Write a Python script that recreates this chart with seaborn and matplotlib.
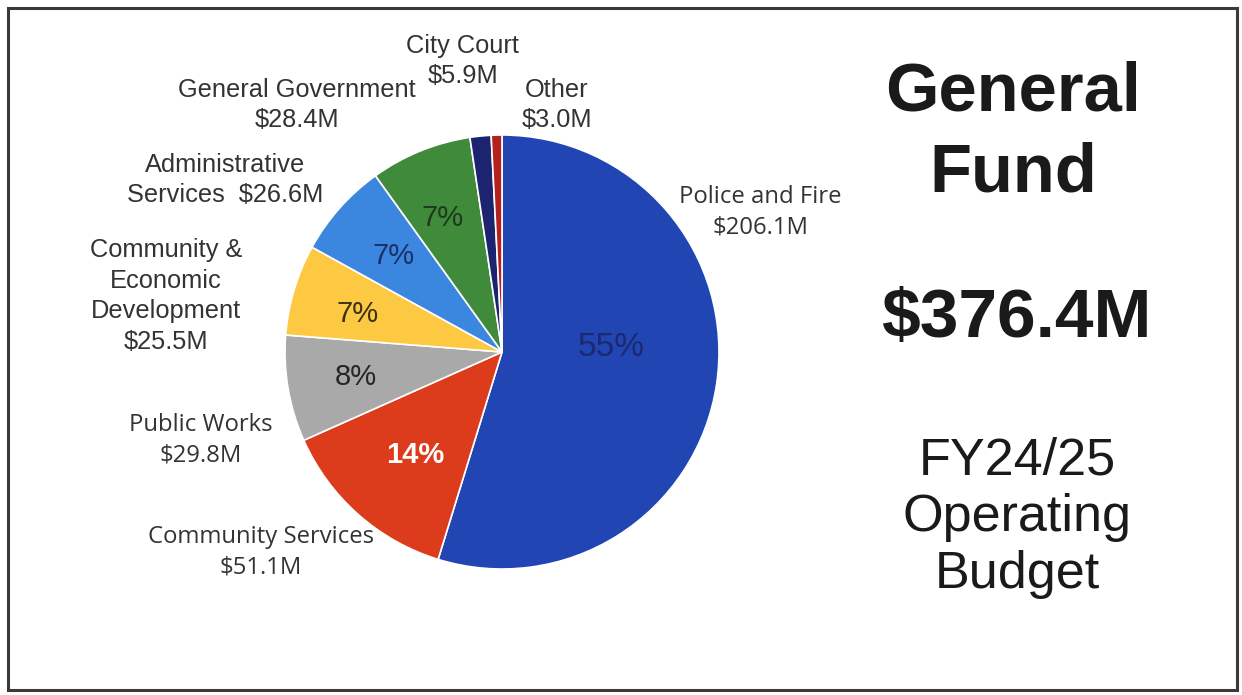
import matplotlib
matplotlib.use("Agg")
import matplotlib.pyplot as plt
from matplotlib.patches import Rectangle
import seaborn as sns

# General Fund operating budget by department, FY24/25 ($ millions)
departments = [
    "Police and Fire",
    "Community Services",
    "Public Works",
    "Community &\nEconomic\nDevelopment",
    "Administrative\nServices",
    "General Government",
    "City Court",
    "Other",
]
amounts = [206.1, 51.1, 29.8, 25.5, 26.6, 28.4, 5.9, 3.0]
pct_labels = ["55%", "14%", "8%", "7%", "7%", "7%", "", ""]
total_label = "$376.4M"

colors = ["#2146b3", "#dc3b1c", "#a9a9a9", "#fdc943", "#3b86df",
          "#3f8a3b", "#1c2470", "#b3211f"]

sns.set_theme(style="white")
ARIAL = ["Liberation Sans", "DejaVu Sans"]
APTOS = ["Open Sans", "DejaVu Sans"]

W, H = 1242, 695
fig = plt.figure(figsize=(W / 100, H / 100), dpi=100)
fig.patch.set_facecolor("white")


def fx(px):
    return px / W


def fy(py):
    return 1 - py / H


# Frame around the slide
fig.add_artist(Rectangle((fx(8), fy(690)), fx(1229), (682) / H,
                         transform=fig.transFigure, fill=False,
                         edgecolor="#3a3a3a", linewidth=2.2))

# Pie axes
cx, cy, r = 502, 352, 217
ax = fig.add_axes([fx(cx - r), fy(cy + r), 2 * r / W, 2 * r / H])
ax.pie(amounts, colors=colors, startangle=90, counterclock=False,
       radius=1.0,
       wedgeprops=dict(edgecolor="white", linewidth=1.2))
ax.set_xlim(-1, 1)
ax.set_ylim(-1, 1)
ax.set_aspect("equal")
ax.axis("off")


def to_data(px, py):
    return (px - cx) / r, (cy - py) / r


# Percent labels inside the wedges
pct_style = [
    dict(pos=(611, 348), color="#1b2a6e", size=24, weight="normal"),
    dict(pos=(415, 455), color="white", size=21, weight="bold"),
    dict(pos=(356, 377), color="#262626", size=21, weight="normal"),
    dict(pos=(358, 314), color="#3a3214", size=21, weight="normal"),
    dict(pos=(394, 256), color="#1c3068", size=21, weight="normal"),
    dict(pos=(443, 218), color="#1e3a1e", size=21, weight="normal"),
]
for lab, st in zip(pct_labels, pct_style):
    x, y = to_data(*st["pos"])
    ax.text(x, y, lab, ha="center", va="center", color=st["color"],
            fontsize=st["size"], fontweight=st["weight"], family=ARIAL)

# Category labels with amounts
label_pos = [
    ((760, 212), APTOS),
    ((261, 552), APTOS),
    ((201, 440), APTOS),
    ((166, 296), ARIAL),
    ((225, 180), ARIAL),
    ((297, 105), ARIAL),
    ((463, 61), ARIAL),
    ((557, 105), ARIAL),
]
for name, amt, (pos, fam) in zip(departments, amounts, label_pos):
    if name == "Administrative\nServices":
        text = f"Administrative\nServices  ${amt:.1f}M"
    else:
        text = f"{name}\n${amt:.1f}M"
    fig.text(fx(pos[0]), fy(pos[1]), text, ha="center", va="center",
             fontsize=18.3 if fam is ARIAL else 17.2, color="#333333",
             family=fam, linespacing=1.36)

# Title block on the right
fig.text(fx(1013), fy(133), "General\nFund", ha="center", va="center",
         fontsize=49.5, fontweight="bold", color="#1a1a1a", family=ARIAL,
         linespacing=1.35)
fig.text(fx(1016), fy(319), total_label, ha="center", va="center",
         fontsize=50, fontweight="bold", color="#1a1a1a", family=ARIAL)
fig.text(fx(1017), fy(518), "FY24/25\nOperating\nBudget", ha="center",
         va="center", fontsize=37.5, color="#1a1a1a", family=ARIAL,
         linespacing=1.2)

fig.savefig("out.png", dpi=100, facecolor="white")
